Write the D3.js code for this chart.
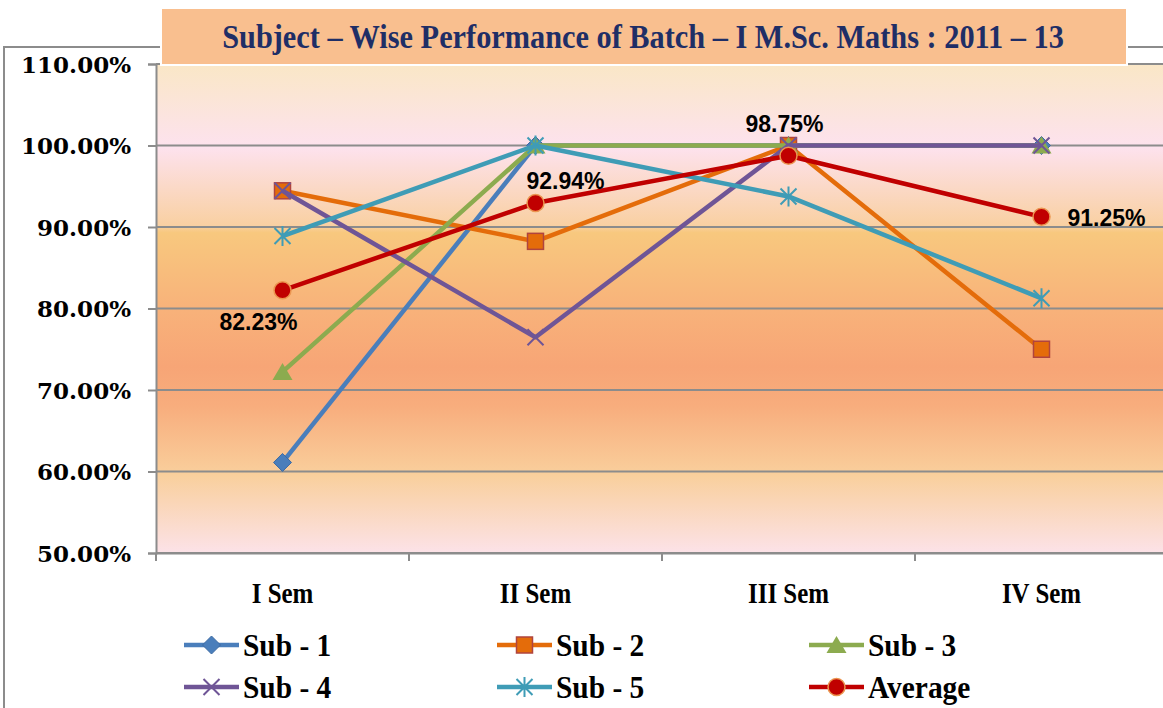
<!DOCTYPE html>
<html><head><meta charset="utf-8">
<script src="https://cdn.jsdelivr.net/npm/d3@7"></script>
<style>html,body{margin:0;padding:0;background:#fff;}svg{display:block;}</style>
</head><body>
<svg id="chart" width="1163" height="708"></svg>
<script>
const categories = ["I Sem", "II Sem", "III Sem", "IV Sem"];
const seriesNames = ["Sub - 1", "Sub - 2", "Sub - 3", "Sub - 4", "Sub - 5", "Average"];
const sub1 = [0.6111, 1.0, 1.0, 1.0];
const sub2 = [0.9444, 0.8824, 1.0, 0.75];
const sub3 = [0.7222, 1.0, 1.0, 1.0];
const sub4 = [0.9444, 0.7647, 1.0, 1.0];
const sub5 = [0.8889, 1.0, 0.9375, 0.8125];
const average = [0.8223, 0.9294, 0.9875, 0.9125];
const avgLabels = ["82.23%", "92.94%", "98.75%", "91.25%"];
const yTicks = [0.5, 0.6, 0.7, 0.8, 0.9, 1.0, 1.1];
const title = "Subject \u2013 Wise Performance of Batch \u2013 I M.Sc. Maths : 2011 \u2013 13";

const seriesValues = [sub1, sub2, sub3, sub4, sub5, average];
const colors = ["#4a7ebb", "#e46c0a", "#8cab4f", "#6f5596", "#3f9cb6", "#c00000"];
const markers = ["diamond", "square", "triangle", "x", "star", "circle"];

const svg = d3.select("#chart");
const L = 156, R = 1168, T = 64, B = 553;
const x = d3.scaleBand().domain(categories).range([L, R]);
const cx = c => x(c) + x.bandwidth() / 2;
const y = d3.scaleLinear().domain([0.5, 1.1]).range([B, T]);

// gradient
const defs = svg.append("defs");
const g = defs.append("linearGradient").attr("id", "bg").attr("x1", 0).attr("y1", 0).attr("x2", 0).attr("y2", 1);
[[0, "#fae7c6"], [0.17, "#fde2ee"], [0.33, "#f9d0a2"], [0.345, "#f8c87e"], [0.5, "#f8b27a"],
 [0.62, "#f7a576"], [0.7, "#f8ad7d"], [0.84, "#f9cf9c"], [1, "#fce2e8"]]
  .forEach(([o, c]) => g.append("stop").attr("offset", o).attr("stop-color", c));

// chart border
svg.append("line").attr("x1", 4).attr("x2", 1163).attr("y1", 47).attr("y2", 47).attr("stroke", "#8c8c8c").attr("stroke-width", 2);
svg.append("line").attr("x1", 4).attr("x2", 4).attr("y1", 46).attr("y2", 708).attr("stroke", "#8c8c8c").attr("stroke-width", 2);

// plot background
svg.append("rect").attr("x", L).attr("y", T).attr("width", 1163 - L).attr("height", B - T).attr("fill", "url(#bg)");

// gridlines
svg.append("g").selectAll("line").data(yTicks).join("line")
  .attr("x1", L).attr("x2", 1163).attr("y1", d => y(d)).attr("y2", d => y(d))
  .attr("stroke", "#8c8c8c").attr("stroke-width", 1.8);

// y axis
const yAxis = svg.append("g").attr("transform", `translate(${L},0)`)
  .call(d3.axisLeft(y).tickValues(yTicks).tickSize(8).tickPadding(17).tickFormat(d => (d * 100).toFixed(2) + "%"));
yAxis.select(".domain").attr("stroke", "#8c8c8c").attr("stroke-width", 2);
yAxis.selectAll(".tick line").attr("stroke", "#8c8c8c").attr("stroke-width", 2);
yAxis.selectAll(".tick text").attr("font-family", "DejaVu Serif").attr("font-weight", "bold")
  .attr("font-size", "23px").attr("fill", "#000").attr("dy", "0.36em");

// x axis
const xAxis = svg.append("g").attr("transform", `translate(0,${B})`)
  .call(d3.axisBottom(x).tickSize(0).tickPadding(0));
xAxis.select(".domain").attr("stroke", "#8c8c8c").attr("stroke-width", 2);
xAxis.selectAll(".tick text").remove();
xAxis.selectAll(".tick").append("line").attr("x1", -x.bandwidth() / 2).attr("x2", -x.bandwidth() / 2)
  .attr("y1", 0).attr("y2", 8).attr("stroke", "#8c8c8c").attr("stroke-width", 2);
xAxis.selectAll(".tick").append("text")
  .attr("transform", "translate(0,50) scale(0.86,1)")
  .attr("text-anchor", "middle").attr("font-family", "Liberation Serif").attr("font-weight", "bold")
  .attr("font-size", "29px").attr("fill", "#000").text(d => d);

// marker drawing
function drawMarker(sel, type, color) {
  const s = 8;
  if (type === "diamond") {
    sel.append("path").attr("d", `M0,${-s - 1}L${s + 1},0L0,${s + 1}L${-s - 1},0Z`).attr("fill", color).attr("stroke", "#3d6ba3").attr("stroke-width", 1);
  } else if (type === "square") {
    sel.append("rect").attr("x", -s).attr("y", -s).attr("width", 2 * s).attr("height", 2 * s)
      .attr("fill", color).attr("stroke", "#b0443e").attr("stroke-width", 1.5);
  } else if (type === "triangle") {
    sel.append("path").attr("d", `M0,${-s - 1}L${s + 2},${s}L${-s - 2},${s}Z`).attr("fill", color);
  } else if (type === "x") {
    sel.append("path").attr("d", `M${-s},${-s}L${s},${s}M${-s},${s}L${s},${-s}`).attr("stroke", color).attr("stroke-width", 2);
  } else if (type === "star") {
    sel.append("path").attr("d", `M${-s},${-s}L${s},${s}M${-s},${s}L${s},${-s}M0,${-s - 2}L0,${s + 2}`).attr("stroke", color).attr("stroke-width", 2);
  } else if (type === "circle") {
    sel.append("circle").attr("r", s + 0.5).attr("fill", color).attr("stroke", "#eb9550").attr("stroke-width", 1.5);
  }
}

const line = d3.line().x((d, i) => cx(categories[i])).y(d => y(d));

seriesValues.forEach((vals, si) => {
  const gs = svg.append("g");
  gs.append("path").datum(vals).attr("d", line).attr("fill", "none")
    .attr("stroke", colors[si]).attr("stroke-width", 4.5).attr("stroke-linejoin", "round");
  vals.forEach((v, i) => {
    const m = gs.append("g").attr("transform", `translate(${cx(categories[i])},${y(v)})`);
    drawMarker(m, markers[si], colors[si]);
  });
});

// average data labels
const labelOffsets = [[-24, 40], [30, -14], [-4, -24], [65, 9]];
svg.append("g").selectAll("text").data(average).join("text")
  .attr("x", (d, i) => cx(categories[i]) + labelOffsets[i][0])
  .attr("y", (d, i) => y(d) + labelOffsets[i][1])
  .attr("text-anchor", "middle").attr("font-family", "Liberation Sans").attr("font-weight", "bold")
  .attr("font-size", "23px").attr("fill", "#000").text((d, i) => avgLabels[i]);

// title box
svg.append("rect").attr("x", 161).attr("y", 8).attr("width", 966).attr("height", 57)
  .attr("fill", "#f9bf8f").attr("stroke", "#fff").attr("stroke-width", 2);
const titleText = svg.append("text").attr("text-anchor", "middle")
  .attr("font-family", "Liberation Serif").attr("font-weight", "bold").attr("font-size", "34px")
  .attr("fill", "#1f2e66").text(title);
const natW = titleText.node().getComputedTextLength();
const sx = Math.min(1, 842 / natW);
titleText.attr("transform", `translate(643,48) scale(${sx},1)`);

// legend
const legendX = [184, 497, 809];
const legendY = [645, 687];
seriesNames.forEach((name, si) => {
  const col = si % 3, row = Math.floor(si / 3);
  const lg = svg.append("g").attr("transform", `translate(${legendX[col]},${legendY[row]})`);
  lg.append("line").attr("x1", 0).attr("x2", 55).attr("y1", 0).attr("y2", 0)
    .attr("stroke", colors[si]).attr("stroke-width", 4.5);
  const m = lg.append("g").attr("transform", "translate(27.5,0)");
  drawMarker(m, markers[si], colors[si]);
  lg.append("text").attr("transform", "translate(59,11) scale(0.92,1)")
    .attr("font-family", "Liberation Serif").attr("font-weight", "bold").attr("font-size", "32px")
    .attr("fill", "#000").text(name);
});
</script>
</body></html>
